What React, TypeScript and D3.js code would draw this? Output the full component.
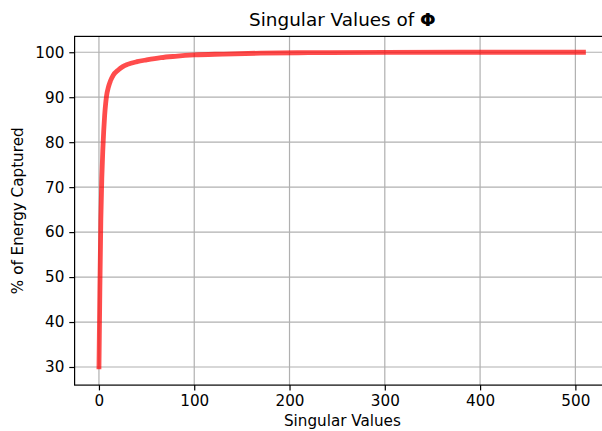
import React, { useEffect, useRef } from "react";
import * as d3 from "d3";

// index of singular value and cumulative % of energy captured
const svIndex = [0, 1, 2, 3, 4, 5, 6, 7, 8, 10, 12, 15, 20, 25, 30, 40, 50, 65, 80, 100, 130, 170, 220, 300, 400, 511];
const energyPct = [29.5, 48, 63, 72, 78, 82.5, 86, 88.5, 90.3, 92.3, 93.6, 94.9, 96.0, 96.8, 97.3, 97.9, 98.3, 98.8, 99.1, 99.4, 99.6, 99.8, 99.9, 99.97, 100, 100];
const xTicks = [0, 100, 200, 300, 400, 500];
const yTicks = [30, 40, 50, 60, 70, 80, 90, 100];

const App = () => {
  const svgRef = useRef<SVGSVGElement | null>(null);

  useEffect(() => {
    const width = 602;
    const height = 431;
    const left = 74.6;
    const right = 610.2; // axes run past the figure edge
    const top = 36.4;
    const bottom = 385.1;
    const font = "DejaVu Sans, sans-serif";

    const xMin = d3.min(svIndex)!;
    const xMax = d3.max(svIndex)!;
    const yMin = d3.min(energyPct)!;
    const yMax = d3.max(energyPct)!;
    const xPad = (xMax - xMin) * 0.05;
    const yPad = (yMax - yMin) * 0.05;

    const x = d3.scaleLinear().domain([xMin - xPad, xMax + xPad]).range([left, right]);
    const y = d3.scaleLinear().domain([yMin - yPad, yMax + yPad]).range([bottom, top]);

    const svg = d3.select(svgRef.current);
    svg.selectAll("*").remove();
    svg.attr("width", width).attr("height", height);

    svg.append("rect").attr("width", width).attr("height", height).attr("fill", "white");

    // grid
    const grid = svg.append("g");
    grid
      .selectAll("line.gx")
      .data(xTicks)
      .enter()
      .append("line")
      .attr("x1", (d) => x(d))
      .attr("x2", (d) => x(d))
      .attr("y1", top)
      .attr("y2", bottom)
      .attr("stroke", "#b0b0b0")
      .attr("stroke-width", 1.2);
    grid
      .selectAll("line.gy")
      .data(yTicks)
      .enter()
      .append("line")
      .attr("x1", left)
      .attr("x2", right)
      .attr("y1", (d) => y(d))
      .attr("y2", (d) => y(d))
      .attr("stroke", "#b0b0b0")
      .attr("stroke-width", 1.2);

    // curve
    const pts: [number, number][] = svIndex.map((d, i) => [d, energyPct[i]]);
    const line = d3
      .line<[number, number]>()
      .x((d) => x(d[0]))
      .y((d) => y(d[1]))
      .curve(d3.curveMonotoneX);
    svg
      .append("path")
      .attr("d", line(pts))
      .attr("fill", "none")
      .attr("stroke", "red")
      .attr("stroke-opacity", 0.7)
      .attr("stroke-width", 4.8);

    // axes
    const xAxis = svg
      .append("g")
      .attr("transform", `translate(0,${bottom})`)
      .call(d3.axisBottom(x).tickValues(xTicks).tickSize(5.3).tickPadding(5).tickSizeOuter(0));
    const yAxis = svg
      .append("g")
      .attr("transform", `translate(${left},0)`)
      .call(d3.axisLeft(y).tickValues(yTicks).tickSize(5.3).tickPadding(5).tickSizeOuter(0));
    [xAxis, yAxis].forEach((g) => {
      g.select(".domain").remove();
      g.selectAll("line").attr("stroke", "black").attr("stroke-width", 1.2);
      g.selectAll("text").attr("font-family", font).attr("font-size", 15.2).attr("fill", "black");
    });

    // spines
    svg
      .append("rect")
      .attr("x", left)
      .attr("y", top)
      .attr("width", right - left)
      .attr("height", bottom - top)
      .attr("fill", "none")
      .attr("stroke", "black")
      .attr("stroke-width", 1.2);

    // title
    const title = svg
      .append("text")
      .attr("x", (left + right) / 2)
      .attr("y", 26)
      .attr("text-anchor", "middle")
      .attr("font-family", font)
      .attr("font-size", 18.4);
    title.append("tspan").text("Singular Values of ");
    title.append("tspan").attr("font-weight", "bold").text("Φ");

    svg
      .append("text")
      .attr("x", (left + right) / 2)
      .attr("y", 426)
      .attr("text-anchor", "middle")
      .attr("font-family", font)
      .attr("font-size", 15.2)
      .text("Singular Values");

    svg
      .append("text")
      .attr("transform", `translate(23,${(top + bottom) / 2}) rotate(-90)`)
      .attr("text-anchor", "middle")
      .attr("font-family", font)
      .attr("font-size", 15.2)
      .text("% of Energy Captured");
  }, []);

  return (
    <div style={{ position: "fixed", left: 0, top: 0 }}>
      <svg ref={svgRef} style={{ display: "block" }} />
    </div>
  );
};

export default App;
